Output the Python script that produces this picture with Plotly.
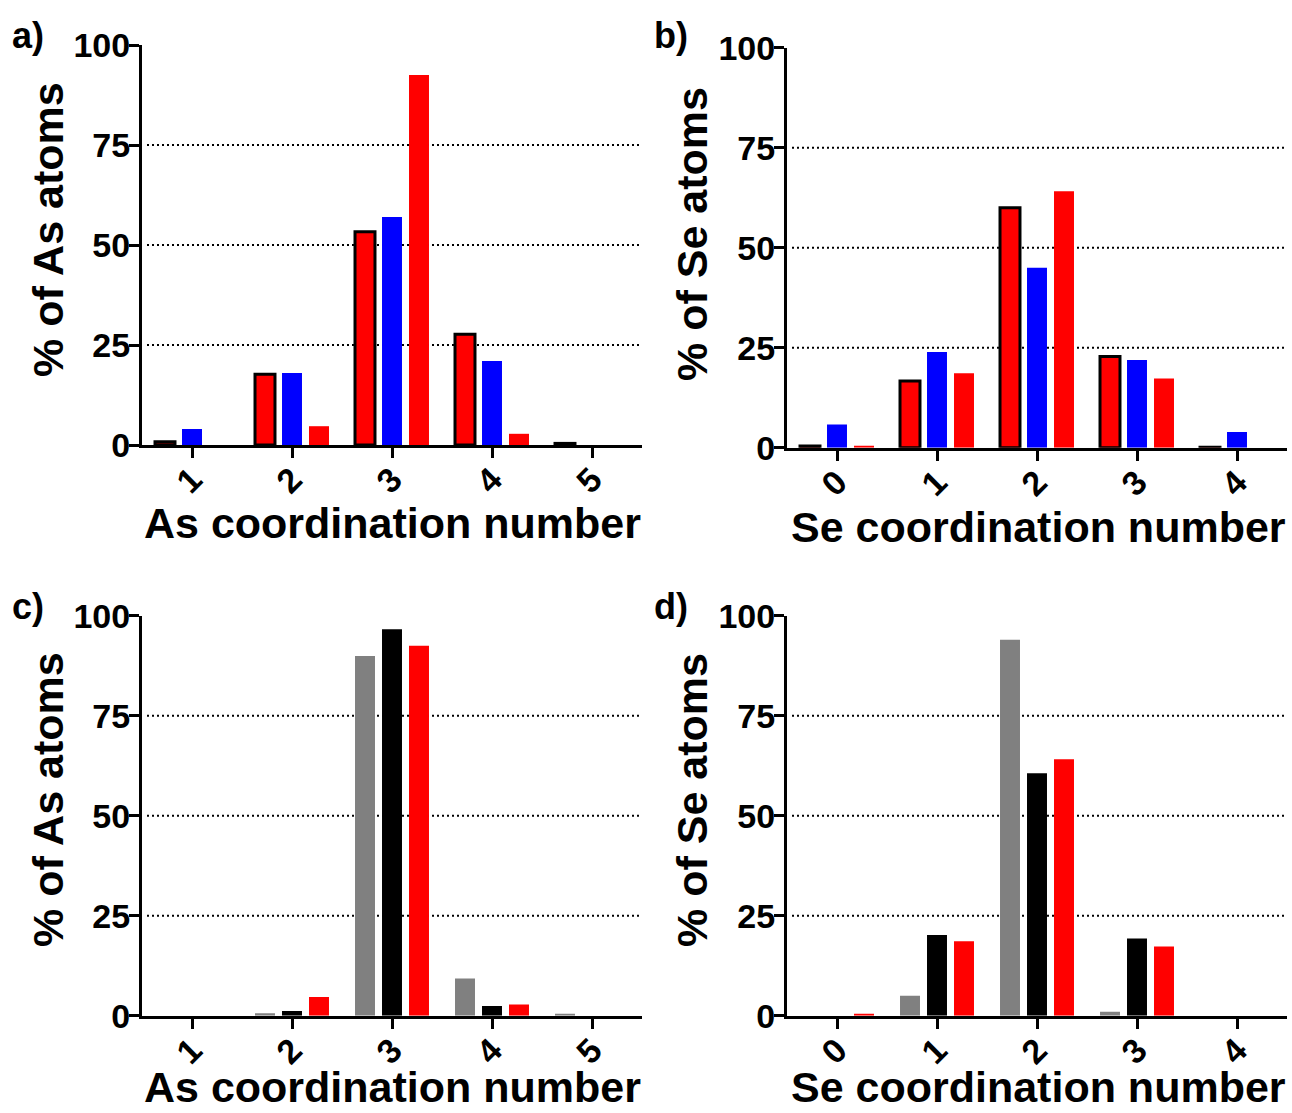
import plotly.graph_objects as go
from plotly.subplots import make_subplots

# Coordination numbers (x categories)
as_cn = [1, 2, 3, 4, 5]
se_cn = [0, 1, 2, 3, 4]
as_tick_labels = ["1", "2", "3", "4", "5"]
se_tick_labels = ["0", "1", "2", "3", "4"]

# Panel a: % of As atoms
a_outlined_red = [0.8, 17.7, 53.3, 27.7, 0.4]
a_blue = [4.0, 18.0, 57.0, 21.0, 0.0]
a_red = [0.0, 4.7, 92.5, 2.8, 0.0]

# Panel b: % of Se atoms
b_outlined_red = [0.4, 16.7, 60.0, 22.8, 0.1]
b_blue = [5.8, 23.9, 45.0, 21.9, 3.9]
b_red = [0.3, 18.6, 64.1, 17.3, 0.0]

# Panel c: % of As atoms
c_gray = [0.0, 0.6, 89.9, 9.3, 0.3]
c_black = [0.0, 1.2, 96.6, 2.4, 0.0]
c_red = a_red

# Panel d: % of Se atoms
d_gray = [0.0, 5.0, 94.0, 1.0, 0.0]
d_black = [0.0, 20.2, 60.6, 19.3, 0.0]
d_red = b_red

y_ticks = [0, 25, 50, 75, 100]
grid_levels = [25, 50, 75]

RED = "#ff0000"
BLUE = "#0000ff"
GRAY = "#808080"
BLACK = "#000000"
FONT = "Liberation Sans, Arial, sans-serif"

W, H = 1292, 1113

fig = make_subplots(rows=2, cols=2)


def bar(x, y, color, outline=False):
    return go.Bar(
        x=x, y=y,
        marker=dict(color=color,
                    line=dict(color=BLACK, width=3 if outline else 0)),
        showlegend=False,
    )


panels = [
    (1, 1, as_cn, [(a_outlined_red, RED, True), (a_blue, BLUE, False), (a_red, RED, False)]),
    (1, 2, se_cn, [(b_outlined_red, RED, True), (b_blue, BLUE, False), (b_red, RED, False)]),
    (2, 1, as_cn, [(c_gray, GRAY, False), (c_black, BLACK, False), (c_red, RED, False)]),
    (2, 2, se_cn, [(d_gray, GRAY, False), (d_black, BLACK, False), (d_red, RED, False)]),
]
for r, c, x, series in panels:
    for y, col, outl in series:
        fig.add_trace(bar(x, y, col, outl), row=r, col=c)

# Pixel boxes of each plotting area: (left, top, right, bottom)
boxes = {
    (1, 1): (142, 45, 642, 445),
    (1, 2): (787, 47.7, 1287, 447.7),
    (2, 1): (142, 615.7, 642, 1015.7),
    (2, 2): (787, 615.7, 1287, 1015.7),
}
# x title text/centre, y title text/centre (pixels), categories, tick labels
titles = {
    (1, 1): ("As coordination number", (392, 523), "% of As atoms", (48, 230), as_cn, as_tick_labels),
    (1, 2): ("Se coordination number", (1038, 527), "% of Se atoms", (692, 234), se_cn, se_tick_labels),
    (2, 1): ("As coordination number", (392, 1087), "% of As atoms", (48, 800), as_cn, as_tick_labels),
    (2, 2): ("Se coordination number", (1038, 1087), "% of Se atoms", (692, 800), se_cn, se_tick_labels),
}

tick_font = dict(family=FONT, size=34, color=BLACK, weight="bold")
title_font = dict(family=FONT, size=43, color=BLACK, weight="bold")

for (r, c), (l, t, rt, b) in boxes.items():
    xt, xpos, yt, ypos, xv, xl = titles[(r, c)]
    fig.update_xaxes(
        domain=[l / W, rt / W],
        range=[xv[0] - 0.5, xv[-1] + 0.5],
        tickvals=xv, ticktext=xl, tickangle=-45,
        showline=True, linecolor=BLACK, linewidth=3,
        ticks="outside", ticklen=10, tickwidth=3, tickcolor=BLACK,
        ticklabelstandoff=-12,
        showgrid=False, zeroline=False, automargin=False,
        tickfont=tick_font,
        row=r, col=c,
    )
    fig.update_yaxes(
        domain=[1 - b / H, 1 - t / H],
        range=[0, 100], tickvals=y_ticks,
        showline=True, linecolor=BLACK, linewidth=3,
        ticks="outside", ticklen=10, tickwidth=3, tickcolor=BLACK,
        ticklabelstandoff=-8,
        showgrid=False, zeroline=False, automargin=False,
        tickfont=tick_font,
        row=r, col=c,
    )
    # axis titles
    fig.add_annotation(
        text=xt, xref="paper", yref="paper",
        x=xpos[0] / W, y=1 - xpos[1] / H, xanchor="center", yanchor="middle",
        showarrow=False, font=title_font,
    )
    fig.add_annotation(
        text=yt, xref="paper", yref="paper", textangle=-90,
        x=ypos[0] / W, y=1 - ypos[1] / H, xanchor="center", yanchor="middle",
        showarrow=False, font=title_font,
    )

# Dotted reference lines at 25/50/75 %
for idx, key in enumerate(boxes, start=1):
    sfx = "" if idx == 1 else str(idx)
    for v in grid_levels:
        fig.add_shape(
            type="line", xref=f"x{sfx} domain", yref=f"y{sfx}",
            x0=0.01, x1=1.0, y0=v, y1=v,
            line=dict(color=BLACK, width=2, dash="2px,3px"),
            layer="below",
        )

# Panel letters
letters = [("a)", 10, 13), ("b)", 652, 13), ("c)", 10, 584), ("d)", 652, 584)]
for txt, px, py in letters:
    fig.add_annotation(
        text=txt, xref="paper", yref="paper",
        x=px / W, y=1 - py / H, xanchor="left", yanchor="top",
        showarrow=False,
        font=dict(family=FONT, size=36, color=BLACK, weight="bold"),
    )

fig.update_layout(
    width=W, height=H,
    margin=dict(l=0, r=0, t=0, b=0),
    paper_bgcolor="white", plot_bgcolor="white",
    barmode="group", bargap=0.19, bargroupgap=0.26,
)

fig.write_html("out.html")
